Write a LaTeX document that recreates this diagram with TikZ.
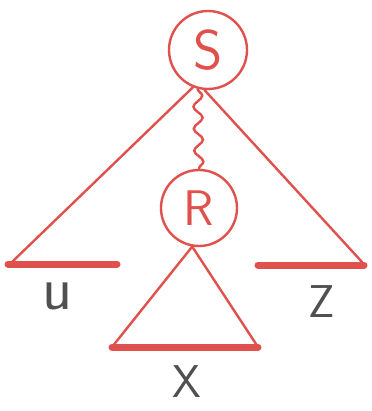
\documentclass[tikz,border=0pt]{standalone}
\usepackage{tikz}
\usetikzlibrary{decorations.pathmorphing}

\definecolor{penred}{HTML}{E0504C}
\definecolor{pengray}{HTML}{505050}

\begin{document}
\begin{tikzpicture}[x=1pt, y=-1pt, line cap=round,
    tree/.style={draw=penred, line width=2.4pt},
    bar/.style={draw=penred, line width=7pt},
    knot/.style={circle, draw=penred, line width=2.4pt, inner sep=0pt, text=penred, font=\sffamily\fontsize{56}{56}\selectfont},
    leaf/.style={text=pengray, font=\sffamily\fontsize{46}{46}\selectfont}]
        \useasboundingbox (0,0) rectangle (371,411);

        % Top node and its subtree
        \node[knot, minimum size=78pt] (s) at (208,50) {S};
        \coordinate (ul) at (12,262);
        \coordinate (zr) at (362,262);
        \draw[tree] (s.-112) -- (ul);
        \draw[tree] (s.-95) -- (zr);

        % Path down to R
        \node[knot, minimum size=76pt, font=\sffamily\fontsize{50}{50}\selectfont] (r) at (199,208) {R};
        \draw[tree, decorate, decoration={snake, segment length=22pt, amplitude=4.5pt}] (s.-105) -- (r.north);

        % Triangle below R
        \coordinate (xl) at (112,347);
        \coordinate (xr) at (258,347);
        \draw[tree] (r.-100) -- (xl) -- (xr) -- cycle;
        \draw[bar] (xl) -- (xr);

        % Side bars
        \coordinate (ubar) at (117,264);
        \coordinate (zbar) at (258,265);
        \draw[bar] (8,264) -- (ubar);
        \draw[bar] (zbar) -- (364,265);

        % Labels
        \node[leaf, font=\sffamily\fontsize{62}{62}\selectfont] (u) at (58,296) {u};
        \node[leaf] (z) at (322,302) {Z};
        \node[leaf] (x) at (187,382) {X};
    \end{tikzpicture}
\end{document}
